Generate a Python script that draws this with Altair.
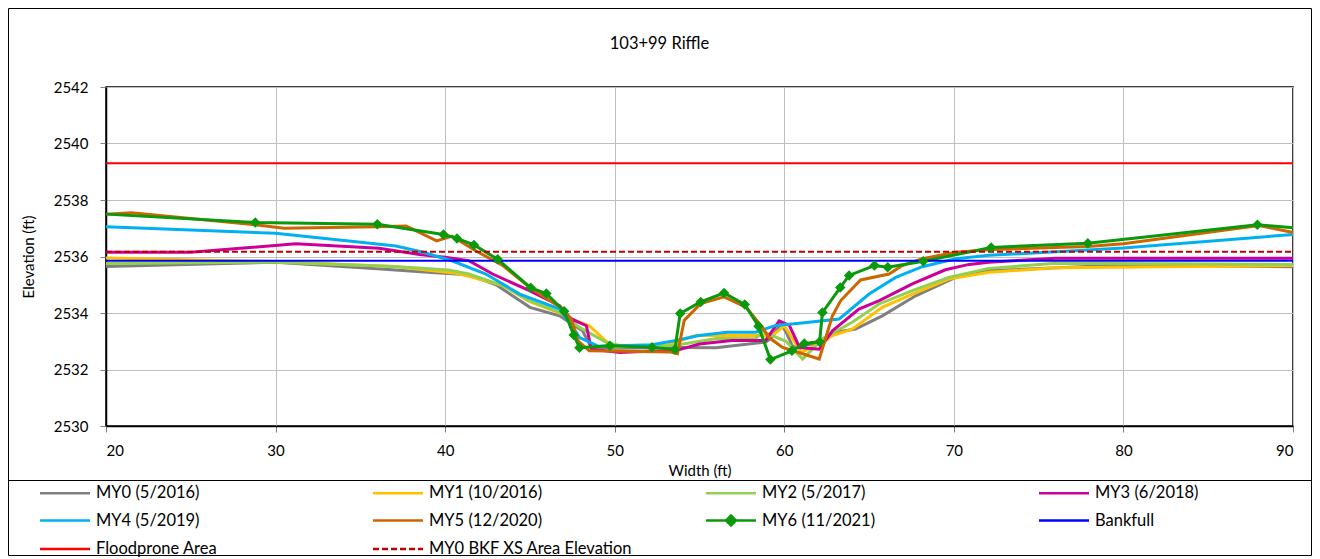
import altair as alt
import pandas as pd

SERIES = ["MY0 (5/2016)", "MY1 (10/2016)", "MY2 (5/2017)", "MY3 (6/2018)",
          "MY4 (5/2019)", "MY5 (12/2020)", "MY6 (11/2021)", "Bankfull",
          "Floodprone Area", "MY0 BKF XS Area Elevation"]
COLORS = ["#7F7F7F", "#FFC000", "#92D050", "#CC0099", "#00B0F0", "#CC6600",
          "#0A990A", "#0000FF", "#FF0000", "#C00000"]

my0_x = [20, 30, 36, 39.2, 41.4, 43.0, 45.0, 46.75, 47.5, 48.1, 48.6, 50, 53.6, 55.96,
         58.9, 59.2, 59.8, 60.1, 60.5, 61.67, 63.0, 64.2, 65.78, 67.75, 70.1, 72.06, 80, 90]
my0_y = [2535.65, 2535.8, 2535.57, 2535.43, 2535.35, 2535.0, 2534.2, 2533.9, 2533.6, 2533.37,
         2532.8, 2532.75, 2532.78, 2532.77, 2532.97, 2533.09, 2533.62, 2533.33, 2532.8, 2532.9,
         2533.31, 2533.43, 2533.9, 2534.61, 2535.26, 2535.5, 2535.7, 2535.64]

my1_x = [20, 30, 37, 40.5, 41.4, 43.4, 45, 46.75, 47.7, 48.5, 49.5, 50, 53.0, 54.77, 56.55,
         58.2, 59.3, 60.0, 61.0, 62.0, 62.84, 64.0, 65.78, 67.55, 69.7, 72.06, 76, 90]
my1_y = [2535.95, 2535.82, 2535.65, 2535.42, 2535.3, 2534.97, 2534.4, 2534.0, 2533.73, 2533.55,
         2533.0, 2532.8, 2532.85, 2533.2, 2533.2, 2533.2, 2533.2, 2533.55, 2532.6, 2532.9,
         2533.2, 2533.43, 2534.2, 2534.67, 2535.2, 2535.44, 2535.6, 2535.68]

my2_x = [20, 30, 37, 40.2, 41.4, 43.4, 44.97, 46.75, 47.93, 49.5, 50.5, 53.5, 56, 58.3, 58.7,
         59.5, 60.1, 61.08, 62.25, 64.0, 65.59, 67.55, 69.7, 72.06, 76, 90]
my2_y = [2535.75, 2535.8, 2535.65, 2535.52, 2535.38, 2534.97, 2534.44, 2534.02, 2533.49, 2532.96,
         2532.82, 2532.85, 2533.1, 2533.09, 2533.35, 2533.15, 2533.0, 2532.37, 2533.08, 2533.67,
         2534.32, 2534.79, 2535.26, 2535.58, 2535.76, 2535.72]

my3_x = [20, 25, 31.2, 36.1, 38.5, 40.0, 41.4, 42.8, 44.97, 46.75, 47.44, 48.33, 48.62, 50.3,
         52.0, 53.6, 55.0, 56.9, 58.9, 59.7, 60.3, 60.9, 62.06, 62.84, 64.4, 65.6, 67.55, 69.5,
         70.9, 72.06, 76, 90]
my3_y = [2536.15, 2536.15, 2536.45, 2536.29, 2536.07, 2535.97, 2535.85, 2535.38, 2534.79, 2534.26,
         2533.79, 2533.55, 2532.72, 2532.6, 2532.65, 2532.67, 2532.9, 2533.03, 2533.03, 2533.72,
         2533.56, 2532.78, 2532.72, 2533.37, 2534.14, 2534.44, 2535.03, 2535.53, 2535.72, 2535.8,
         2535.94, 2535.94]

my4_x = [20, 30, 37.1, 38.7, 40.4, 42.4, 44.4, 46.75, 47.53, 47.93, 49.05, 52.2, 53.6, 54.97,
         56.64, 58.3, 59.5, 60.9, 63.24, 65.0, 66.57, 68.14, 70.1, 72.06, 80, 90]
my4_y = [2537.05, 2536.82, 2536.37, 2536.15, 2535.85, 2535.38, 2534.67, 2534.14, 2533.49, 2533.13,
         2532.82, 2532.88, 2533.03, 2533.2, 2533.32, 2533.32, 2533.56, 2533.64, 2533.79, 2534.67,
         2535.26, 2535.64, 2535.92, 2536.04, 2536.3, 2536.78]

my5_x = [20, 21.5, 28.8, 30.5, 36, 37.7, 39.5, 40.4, 41.9, 43.4, 45.0, 46.94, 47.45, 47.85, 48.5,
         53.3, 53.7, 54.1, 55.07, 56.45, 57.73, 58.7, 59.1, 59.9, 62.06, 62.84, 63.33, 64.5, 66.18,
         66.96, 68.14, 70.1, 72.3, 77.9, 80, 88, 90]
my5_y = [2537.5, 2537.55, 2537.12, 2537.0, 2537.05, 2537.08, 2536.55, 2536.72, 2536.17, 2535.68,
         2534.9, 2534.14, 2533.75, 2533.0, 2532.66, 2532.62, 2532.56, 2533.74, 2534.33, 2534.57,
         2534.21, 2533.5, 2533.13, 2532.78, 2532.37, 2533.9, 2534.44, 2535.17, 2535.38, 2535.68,
         2535.92, 2536.15, 2536.25, 2536.35, 2536.45, 2537.1, 2536.85]

my6_x = [20, 28.8, 36.0, 39.9, 40.7, 41.7, 43.1, 45.05, 45.97, 47.02, 47.58, 47.92, 49.72, 52.2,
         53.55, 53.86, 55.07, 56.45, 57.67, 58.48, 59.18, 60.45, 61.18, 62.08, 62.25, 63.3, 63.82,
         65.32, 66.1, 68.2, 72.2, 77.9, 87.9, 90]
my6_y = [2537.5, 2537.2, 2537.14, 2536.78, 2536.64, 2536.41, 2535.9, 2534.89, 2534.69, 2534.06,
         2533.22, 2532.77, 2532.84, 2532.79, 2532.71, 2533.98, 2534.39, 2534.71, 2534.3, 2533.53,
         2532.35, 2532.66, 2532.92, 2532.98, 2534.02, 2534.9, 2535.33, 2535.68, 2535.62, 2535.83,
         2536.32, 2536.47, 2537.12, 2537.02]

ref_x = [20, 90]
bankfull_y = [2535.85, 2535.85]
floodprone_y = [2539.3, 2539.3]
bkf_xs_y = [2536.17, 2536.17]

x_ticks = [20, 30, 40, 50, 60, 70, 80, 90]
y_ticks = [2530, 2532, 2534, 2536, 2538, 2540, 2542]

survey = [(SERIES[0], my0_x, my0_y), (SERIES[1], my1_x, my1_y), (SERIES[2], my2_x, my2_y),
          (SERIES[3], my3_x, my3_y), (SERIES[4], my4_x, my4_y), (SERIES[5], my5_x, my5_y),
          (SERIES[6], my6_x, my6_y)]
refs = [(SERIES[7], ref_x, bankfull_y), (SERIES[8], ref_x, floodprone_y),
        (SERIES[9], ref_x, bkf_xs_y)]


def frame(items):
    rows = []
    for name, xs, ys in items:
        for i, (a, b) in enumerate(zip(xs, ys)):
            rows.append({"series": name, "x": a, "y": b, "i": i})
    return pd.DataFrame(rows)


survey_df = frame(survey)
ref_df = frame(refs)
my6_df = frame([survey[6]])

FONT = "Lato"
xs = alt.X("x:Q", scale=alt.Scale(domain=[20, 90], nice=False, zero=False),
           axis=alt.Axis(title="Width (ft)", values=x_ticks, format="d"))
ys = alt.Y("y:Q", scale=alt.Scale(domain=[2530, 2542], nice=False, zero=False),
           axis=alt.Axis(title="Elevation (ft)", values=y_ticks, format="d"))

MY6 = SERIES[6]
BKF = SERIES[9]
legend = alt.Legend(
    title=None, orient="none", direction="horizontal", legendX=-51, legendY=395, columns=4,
    gridAlign="all", columnPadding=67, rowPadding=6.5, symbolSize=278, labelOffset=21,
    symbolType={"expr": f"datum.value === '{MY6}' ? 'M-3,0H3M0,-0.6L0.6,0L0,0.6L-0.6,0Z' : 'M-3,0H3'"},
    symbolDash={"expr": f"datum.value === '{BKF}' ? [6,3] : [1,0]"},
    symbolFillColor={"expr": f"datum.value === '{MY6}' ? '#0A990A' : 'transparent'"},
    symbolStrokeWidth=2.5, labelFont=FONT, labelFontSize=16.5, labelColor="#000",
    labelLimit=400, padding=0,
)
color = alt.Color("series:N", scale=alt.Scale(domain=SERIES, range=COLORS), legend=legend)

lines = alt.Chart(survey_df).mark_line(strokeWidth=3).encode(
    x=xs, y=ys, color=color, order="i:Q")

ref_lines = alt.Chart(ref_df).mark_line(strokeWidth=2).encode(
    x=xs, y=ys, color=color,
    strokeDash=alt.StrokeDash("series:N", scale=alt.Scale(
        domain=SERIES[7:], range=[[1, 0], [1, 0], [6, 3]]), legend=None),
    order="i:Q")

markers = alt.Chart(my6_df).transform_filter(
    "datum.x > 20 && datum.x < 90").mark_point(
    shape="diamond", filled=True, size=110, opacity=1, color="#0A990A").encode(x=xs, y=ys)

box = alt.Chart(alt.Data(values=[{}])).mark_rect(
    filled=False, stroke="#000", strokeWidth=1).encode(
    x=alt.value(-97.5), x2=alt.value(1205.5), y=alt.value(-78.5), y2=alt.value(468.5))
sep = alt.Chart(alt.Data(values=[{}])).mark_rule(color="#000", strokeWidth=1).encode(
    x=alt.value(-97.5), x2=alt.value(1205.5), y=alt.value(393.5))

chart = alt.layer(lines, ref_lines, markers, box, sep).properties(
    width=1187, height=339,
    title=alt.TitleParams("103+99 Riffle", font=FONT, fontSize=16.5, fontWeight="normal",
                          anchor="middle", offset=-44, color="#000", dx=-40),
    autosize=alt.AutoSizeParams(type="none"),
    padding={"left": 98, "top": 79, "right": 19, "bottom": 133},
).configure_view(stroke="#000", strokeWidth=1.5).configure_axis(
    labelFont=FONT, labelFontSize=15, labelColor="#000", titleFont=FONT, titleFontSize=15,
    titleColor="#000", titleFontWeight="normal", gridColor="#BFBFBF", gridWidth=1,
    domainColor="#000", domainWidth=1.5, tickColor="#7F7F7F", tickSize=6,
).configure_axisX(labelPadding=11, titlePadding=5).configure_axisY(
    labelPadding=12, titlePadding=17)

chart.save("out.html", embed_options={"renderer": "svg", "actions": False})
